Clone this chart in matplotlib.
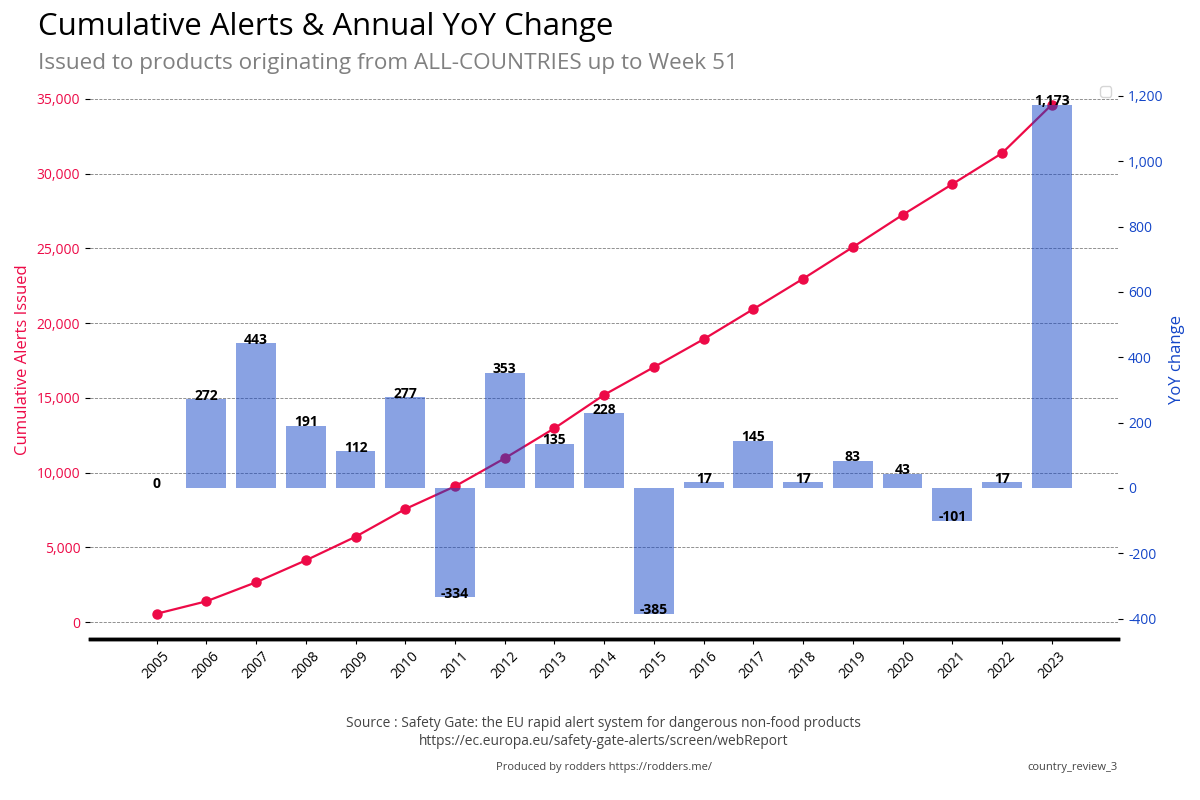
import matplotlib.pyplot as plt
from matplotlib.ticker import FuncFormatter

years = [str(y) for y in range(2005, 2024)]
cumulative = [560, 1392, 2667, 4133, 5711, 7566, 9087, 10961, 12970, 15207,
              17059, 18928, 20942, 22973, 25087, 27244, 29300, 31373, 34619]
yoy = [0, 272, 443, 191, 112, 277, -334, 353, 135, 228,
       -385, 17, 145, 17, 83, 43, -101, 17, 1173]

RED = "#ED0A47"
BLUE = "#1446C8"

plt.rcParams['font.family'] = ['Open Sans', 'DejaVu Sans']

fig = plt.figure(figsize=(12, 8), dpi=100)
ax = fig.add_axes([0.075, 0.201, 0.857, 0.70])
ax2 = ax.twinx()

x = list(range(len(years)))

# cumulative line on left axis
ax.plot(x, cumulative, color=RED, marker='o', markersize=6.5, linewidth=1.6)
ax.yaxis.set_major_formatter(FuncFormatter(lambda v, p: f"{int(v):,}"))
ax.set_ylabel("Cumulative Alerts Issued", color=RED, fontsize=12)
ax.tick_params(axis='y', labelcolor=RED, labelsize=10)
ax.grid(axis='y', linestyle='--', color='gray', linewidth=0.6)
ax.set_xticks(x)
ax.set_xticklabels(years, rotation=45, fontsize=10)

# yoy bars on right axis
ax2.bar(x, yoy, color=BLUE, alpha=0.5, width=0.8)
for xi, v in zip(x, yoy):
    ax2.annotate(f"{v:,}", (xi, v), xytext=(0, -2.5), textcoords='offset points',
                 ha='center', va='bottom', fontsize=10, fontweight='bold', color='black')
ax2.yaxis.set_major_formatter(FuncFormatter(lambda v, p: f"{int(v):,}"))
ax2.set_ylabel("YoY change", color=BLUE, fontsize=12)
ax2.tick_params(axis='y', labelcolor=BLUE, labelsize=10)
ax2.legend(handles=[], loc='upper right')

for a in (ax, ax2):
    a.spines['top'].set_visible(False)
    a.spines['left'].set_visible(False)
    a.spines['right'].set_visible(False)
    a.spines['bottom'].set_linewidth(2.5)

fig.text(0.032, 0.966, "Cumulative Alerts & Annual YoY Change", fontsize=22.4,
         ha='left', va='center', color='black')
fig.text(0.032, 0.921, "Issued to products originating from ALL-COUNTRIES up to Week 51",
         fontsize=16.2, ha='left', va='center', color='gray')

fig.text(0.503, 0.084, "Source : Safety Gate: the EU rapid alert system for dangerous non-food products\n"
         "https://ec.europa.eu/safety-gate-alerts/screen/webReport",
         ha='center', va='center', fontsize=9.9, color='#444444', linespacing=1.25)
fig.text(0.503, 0.041, "Produced by rodders https://rodders.me/", ha='center', va='center',
         fontsize=8, color='#444444')
fig.text(0.931, 0.041, "country_review_3", ha='right', va='center',
         fontsize=8, color='#444444')

fig.savefig("out.png", dpi=100)
